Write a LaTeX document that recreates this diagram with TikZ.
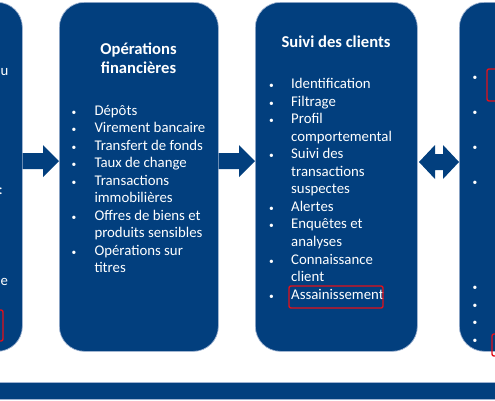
\documentclass[tikz,border=0pt]{standalone}
\usepackage{fontspec}
\setmainfont{Carlito}
\usetikzlibrary{calc}
\definecolor{boxblue}{HTML}{023F7E}
\definecolor{edgeblue}{HTML}{9FB3D1}
\definecolor{markred}{HTML}{E3101A}
\newcommand\smbul{{\fontsize{9.5}{9.5}\selectfont\textbullet}}
\begin{document}
\begin{tikzpicture}[x=1pt,y=-1pt,
  panel/.style={fill=boxblue, draw=edgeblue, line width=0.7pt, rounded corners=25pt,
    inner sep=0pt, anchor=north west, minimum height=349pt},
  bartop/.style={fill=boxblue, draw=edgeblue, line width=0.8pt, inner sep=0pt,
    anchor=north west, minimum height=17pt, minimum width=520pt},
  ttl/.style={text=white, inner sep=0pt, anchor=base, font=\fontsize{16.6}{20}\selectfont\bfseries},
  lst/.style={text=white, inner sep=0pt, anchor=base west, font=\fontsize{14.8}{17.55}\selectfont},
  bul/.style={text=white, inner sep=0pt, anchor=base, font=\fontsize{14.8}{17.55}\selectfont},
  hl/.style={draw=markred, line width=1.4pt, rounded corners=2pt, fill=none},
  arr/.style={fill=boxblue, draw=none}]
\useasboundingbox (0,0) rectangle (495,400);
\clip (0,0) rectangle (495,400);

% panels
\node[panel, minimum width=160pt] (b1) at (-138,2) {};
\node[panel, minimum width=159pt] (b2) at (59,2) {};
\node[panel, minimum width=162pt] (b3) at (255,2) {};
\node[panel, minimum width=162pt] (b4) at (459,2) {};

% bottom bar
\node[bartop] (bar) at (-10,382) {};

% arrows
\fill[arr] (b1.east |- 0,153) -- (43,153) -- (43,145) -- (b2.west |- 0,161)
  -- (43,177) -- (43,169) -- (b1.east |- 0,169) -- cycle;
\fill[arr] (b2.east |- 0,153) -- (239,153) -- (239,145) -- (b3.west |- 0,161)
  -- (239,177) -- (239,169) -- (b2.east |- 0,169) -- cycle;
\fill[arr] (419,162) -- (435,145) -- (435,154) -- (443,154) -- (443,145)
  -- (b4.west |- 0,162) -- (443,179) -- (443,170) -- (435,170) -- (435,179) -- cycle;

% left panel fragments
\node[lst] (f1) at (0.5,75) {u};
\node[lst, anchor=base east] (f2) at (3,194) {:};
\node[lst] (f3) at (0.5,285) {e};
\draw[hl] (-40,310) rectangle (3,341);

% panel 2
\node[ttl] (t2a) at (138.5,54.5) {Opérations};
\node[ttl] (t2b) at (138.5,73.5) {financières};
\node[lst] (l2) at (71.5,115) {\begin{tabular}[t]{@{}p{22.8pt}@{}l@{}}
\smbul & Dépôts\\
\smbul & Virement bancaire\\
\smbul & Transfert de fonds\\
\smbul & Taux de change\\
\smbul & Transactions\\
 & immobilières\\
\smbul & Offres de biens et\\
 & produits sensibles\\
\smbul & Opérations sur\\
 & titres
\end{tabular}};

% panel 3
\node[ttl] (t3) at (336,47.5) {Suivi des clients};
\node[lst] (l3) at (269,88.5) {\begin{tabular}[t]{@{}p{22pt}@{}l@{}}
\smbul & Identification\\
\smbul & Filtrage\\
\smbul & Profil\\
 & comportemental\\
\smbul & Suivi des\\
 & transactions\\
 & suspectes\\
\smbul & Alertes\\
\smbul & Enquêtes et\\
 & analyses\\
\smbul & Connaissance\\
 & client\\
\smbul & Assainissement
\end{tabular}};
\draw[hl] (289,286) rectangle (383,308);

% panel 4 (cut off)
\foreach \yy [count=\i] in {80.5,115.5,150.5,185.5,290.5,308,325.5,343}
  \node[bul] (p4\i) at (475,\yy) {\smbul};
\draw[hl] (487,69) rectangle (520,101);
\draw[hl] (492,334) rectangle (520,356);
\end{tikzpicture}
\end{document}
